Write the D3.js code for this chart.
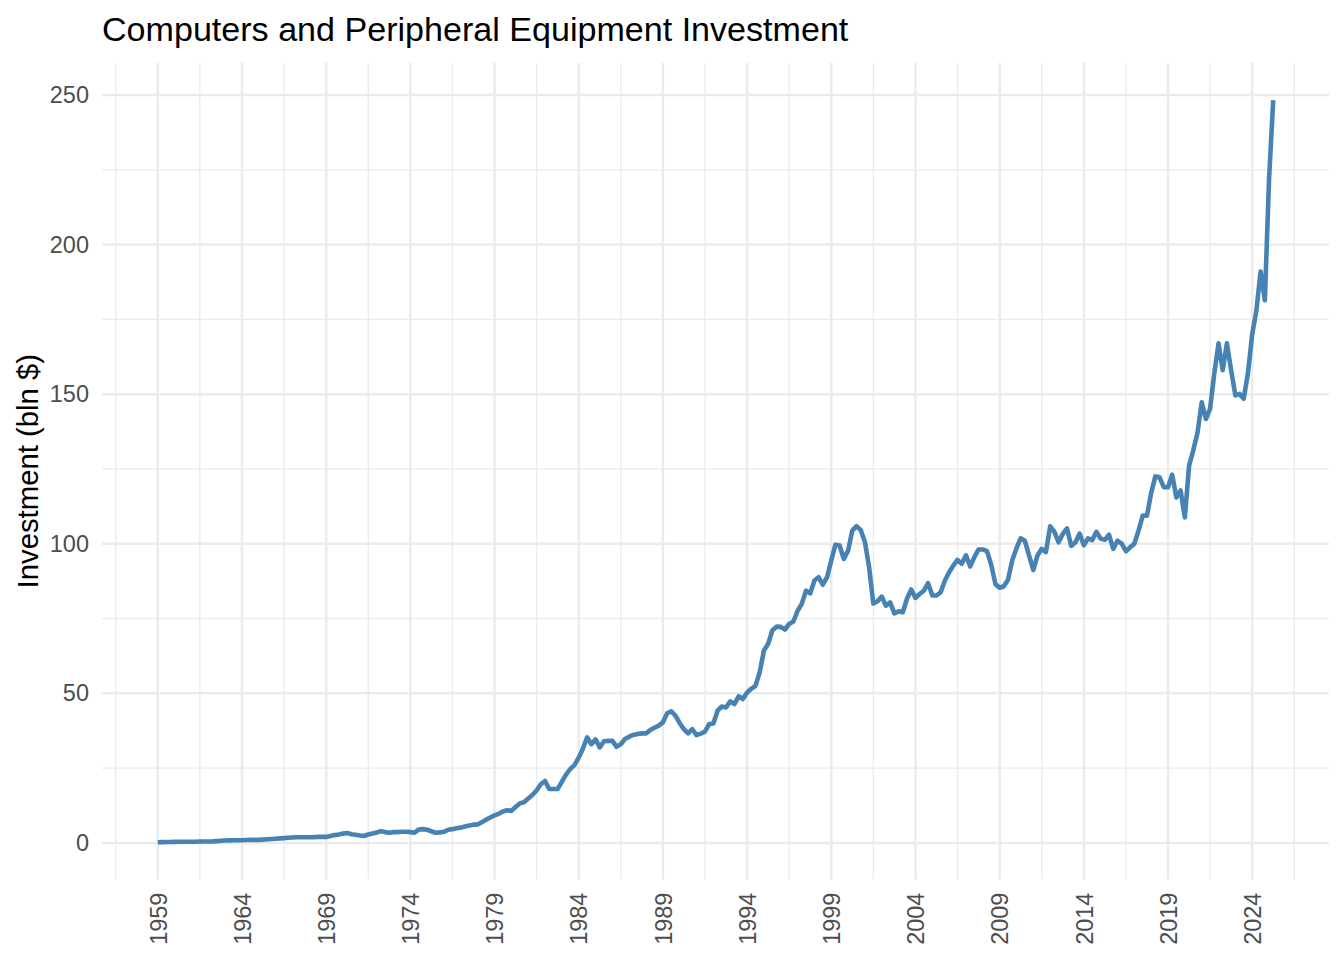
<!DOCTYPE html>
<html><head><meta charset="utf-8">
<script src="https://cdn.jsdelivr.net/npm/d3@7"></script>
<style>body{margin:0;background:#fff}</style>
</head><body>
<svg id="chart" width="1344" height="960"></svg>
<script>
// ---- data (quarterly, starting 1959 Q1) ----
const startYear = 1959;
const investment = [
  0.2, 0.25, 0.3, 0.3,      // 1959
  0.35, 0.4, 0.4, 0.4,      // 1960
  0.4, 0.4, 0.45, 0.45,     // 1961
  0.45, 0.5, 0.6, 0.7,      // 1962
  0.8, 0.85, 0.9, 0.9,      // 1963
  0.9, 0.95, 1.0, 1.0,      // 1964
  1.0, 1.1, 1.2, 1.3,       // 1965
  1.4, 1.5, 1.6, 1.7,       // 1966
  1.8, 1.9, 1.9, 1.9,       // 1967
  1.9, 1.9, 2.0, 2.0,       // 1968
  2.0, 2.3, 2.6, 2.8,       // 1969
  3.1, 3.3, 2.9, 2.7,       // 1970
  2.5, 2.3, 2.8, 3.1,       // 1971
  3.5, 3.9, 3.6, 3.4,       // 1972
  3.6, 3.6, 3.7, 3.7,       // 1973
  3.6, 3.4, 4.5, 4.6,       // 1974
  4.4, 3.9, 3.4, 3.5,       // 1975
  3.7, 4.4, 4.6, 4.9,       // 1976
  5.1, 5.5, 5.8, 6.1,       // 1977
  6.2, 6.9, 7.7, 8.5,       // 1978
  9.2, 9.7, 10.5, 10.9,     // 1979
  10.7, 12.0, 13.2, 13.6,   // 1980
  14.8, 16.0, 17.5, 19.6,   // 1981
  20.7, 18.0, 18.0, 18.0,   // 1982
  20.5, 22.8, 24.7, 26.0,   // 1983
  28.5, 31.5, 35.3, 33.0,   // 1984
  34.6, 31.9, 34.0, 34.1,   // 1985
  34.1, 32.1, 33.0, 34.7,   // 1986
  35.5, 36.1, 36.4, 36.6,   // 1987
  36.6, 37.7, 38.5, 39.2,   // 1988
  40.3, 43.3, 44.0, 42.5,   // 1989
  40.0, 38.0, 36.6, 38.0,   // 1990
  36.0, 36.5, 37.2, 39.7,   // 1991
  39.9, 44.2, 45.6, 45.3,   // 1992
  47.3, 46.4, 49.0, 48.1,   // 1993
  50.3, 51.5, 52.5, 57.0,   // 1994
  64.3, 66.5, 71.0, 72.3,   // 1995
  72.2, 71.3, 73.2, 74.0,   // 1996
  77.6, 79.9, 84.3, 83.4,   // 1997
  87.7, 88.8, 86.3, 88.8,   // 1998
  94.4, 99.7, 99.4, 94.9,   // 1999
  97.7, 104.4, 105.9, 104.6,// 2000
  100.5, 92.1, 80.0, 80.8,  // 2001
  82.3, 79.3, 80.4, 76.7,   // 2002
  77.4, 77.1, 81.6, 84.7,   // 2003
  81.9, 83.2, 84.3, 86.8,   // 2004
  82.7, 82.7, 83.8, 87.7,   // 2005
  90.5, 92.7, 94.6, 93.3,   // 2006
  96.1, 92.4, 95.5, 98.1,   // 2007
  98.1, 97.5, 93.0, 86.5,   // 2008
  85.3, 85.8, 88.0, 94.5,   // 2009
  98.5, 101.8, 101.0, 96.0, // 2010
  91.2, 96.1, 98.3, 97.2,   // 2011
  105.8, 104.0, 100.5, 103.3, // 2012
  105.1, 99.3, 100.4, 103.4,  // 2013
  99.5, 101.8, 101.2, 104.0,  // 2014
  101.7, 101.3, 103.0, 98.3,  // 2015
  101.0, 100.0, 97.5, 98.8,   // 2016
  100.0, 104.4, 109.4, 109.4, // 2017
  117.0, 122.5, 122.2, 118.9, // 2018
  118.9, 123.1, 115.5, 117.8, // 2019
  108.8, 126.0, 131.2, 137.0, // 2020
  147.3, 141.7, 145.1, 157.0, // 2021
  167.0, 158.0, 167.0, 158.0, // 2022
  149.6, 150.1, 148.5, 157.0, // 2023
  170.0, 178.0, 191.0, 181.4, // 2024
  222.0, 248.3                // 2025
];
const tickYears = [1959,1964,1969,1974,1979,1984,1989,1994,1999,2004,2009,2014,2019,2024];
const yTicks = [0,50,100,150,200,250];
const yMinor = [25,75,125,175,225];
const titleText = "Computers and Peripheral Equipment Investment";
const yTitle = "Investment (bln $)";

// ---- layout ----
const W = 1344, H = 960;
const panel = {left: 102, right: 1329, top: 63, bottom: 879.4};
const svg = d3.select("#chart");
const font = "'Liberation Sans', Arial, Helvetica, sans-serif";

const data = investment.map((v, i) => ({date: new Date(Date.UTC(startYear, 3 * i, 1)), value: v}));

const dExt = d3.extent(data, d => d.date);
const dSpan = dExt[1] - dExt[0];
const x = d3.scaleUtc()
  .domain([new Date(+dExt[0] - 0.05 * dSpan), new Date(+dExt[1] + 0.05 * dSpan)])
  .range([panel.left, panel.right]);

const vExt = d3.extent(data, d => d.value);
const vSpan = vExt[1] - vExt[0];
const y = d3.scaleLinear()
  .domain([vExt[0] - 0.05 * vSpan, vExt[1] + 0.05 * vSpan])
  .range([panel.bottom, panel.top]);

const majorDates = tickYears.map(yr => new Date(Date.UTC(yr, 0, 1)));
const step = tickYears[1] - tickYears[0];
const extMajor = [new Date(Date.UTC(tickYears[0] - step, 0, 1)), ...majorDates,
                  new Date(Date.UTC(tickYears[tickYears.length - 1] + step, 0, 1))];
const minorDates = [];
for (let i = 0; i < extMajor.length - 1; i++) {
  const m = new Date((+extMajor[i] + +extMajor[i + 1]) / 2);
  if (m >= x.domain()[0] && m <= x.domain()[1]) minorDates.push(m);
}

const grid = svg.append("g");
// minor grid
grid.selectAll("line.ymin").data(yMinor).join("line")
  .attr("x1", panel.left).attr("x2", panel.right)
  .attr("y1", d => y(d)).attr("y2", d => y(d))
  .attr("stroke", "#EBEBEB").attr("stroke-width", 1.3);
grid.selectAll("line.xmin").data(minorDates).join("line")
  .attr("y1", panel.top).attr("y2", panel.bottom)
  .attr("x1", d => x(d)).attr("x2", d => x(d))
  .attr("stroke", "#EBEBEB").attr("stroke-width", 1.3);
// major grid
grid.selectAll("line.ymaj").data(yTicks).join("line")
  .attr("x1", panel.left).attr("x2", panel.right)
  .attr("y1", d => y(d)).attr("y2", d => y(d))
  .attr("stroke", "#EBEBEB").attr("stroke-width", 2.5);
grid.selectAll("line.xmaj").data(majorDates).join("line")
  .attr("y1", panel.top).attr("y2", panel.bottom)
  .attr("x1", d => x(d)).attr("x2", d => x(d))
  .attr("stroke", "#EBEBEB").attr("stroke-width", 2.5);

// axes (ticks hidden, labels only)
const yAxis = d3.axisLeft(y).tickValues(yTicks).tickSize(0).tickPadding(13);
const gy = svg.append("g").attr("transform", `translate(${panel.left},0)`).call(yAxis);
gy.select(".domain").remove();
gy.selectAll("text").attr("font-family", font).attr("font-size", 23.5).attr("fill", "#4D4D4D");

const xAxis = d3.axisBottom(x).tickValues(majorDates).tickSize(0).tickFormat(d3.utcFormat("%Y"));
const gx = svg.append("g").attr("transform", `translate(0,${panel.bottom})`).call(xAxis);
gx.select(".domain").remove();
gx.selectAll("text")
  .attr("font-family", font).attr("font-size", 23.5).attr("fill", "#4D4D4D")
  .attr("transform", "rotate(-90)")
  .attr("text-anchor", "end")
  .attr("x", -13.2).attr("y", 0).attr("dy", "0.35em");

// line
const line = d3.line().x(d => x(d.date)).y(d => y(d.value));
svg.append("path").datum(data)
  .attr("d", line)
  .attr("fill", "none")
  .attr("stroke", "steelblue")
  .attr("stroke-width", 4.6)
  .attr("stroke-linejoin", "round")
  .attr("stroke-linecap", "butt");

// titles
svg.append("text")
  .attr("x", panel.left).attr("y", 41)
  .attr("font-family", font).attr("font-size", 34.1).attr("fill", "#000")
  .text(titleText);

svg.append("text")
  .attr("transform", `translate(38,${(panel.top + panel.bottom) / 2}) rotate(-90)`)
  .attr("text-anchor", "middle")
  .attr("font-family", font).attr("font-size", 29.3).attr("fill", "#000")
  .text(yTitle);
</script>
</body></html>
